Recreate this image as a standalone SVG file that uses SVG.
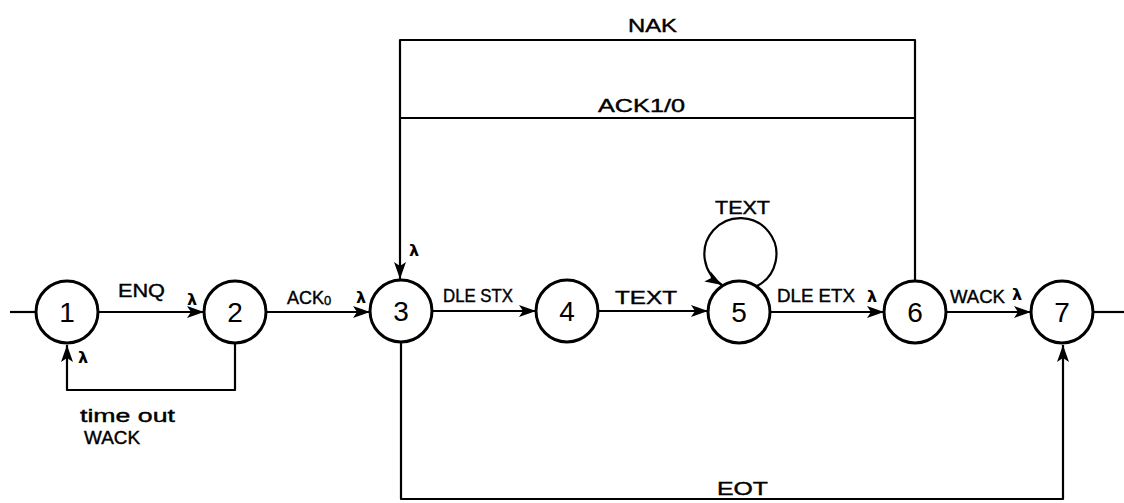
<svg xmlns="http://www.w3.org/2000/svg" width="1124" height="503" viewBox="0 0 1124 503">
<style>
.node circle{fill:#fff;stroke:#000;stroke-width:3}
.node text{font-family:"Liberation Sans",Arial,sans-serif;font-size:28px;text-anchor:middle;fill:#000}
.edge{fill:none;stroke:#000;stroke-width:2.2;stroke-linejoin:round}
.lbl{font-family:"Liberation Sans",Arial,sans-serif;font-size:18px;fill:#000;stroke:#000;stroke-width:0.4}
.lam{font-family:"DejaVu Sans",sans-serif;font-size:16px;font-weight:bold;fill:#000}
</style>
<defs>
<marker id="arr" markerUnits="userSpaceOnUse" markerWidth="18" markerHeight="12" refX="17" refY="6" orient="auto">
<path d="M0,0 L17,6 L0,12 L4,6 z" fill="#000"/>
</marker>
</defs>
<rect width="1124" height="503" fill="#fff"/>
<g id="connectors">
<path class="edge" d="M10,312 H36"/>
<path class="edge" d="M98,312 H204" marker-end="url(#arr)"/>
<path class="edge" d="M266,312 H370" marker-end="url(#arr)"/>
<path class="edge" d="M432,311 H536" marker-end="url(#arr)"/>
<path class="edge" d="M598,311 H708" marker-end="url(#arr)"/>
<path class="edge" d="M770,312 H884" marker-end="url(#arr)"/>
<path class="edge" d="M946,312 H1031" marker-end="url(#arr)"/>
<path class="edge" d="M1093,312 H1124"/>
<path class="edge" d="M235,343 V390 H67 V345" marker-end="url(#arr)"/>
<path class="edge" d="M757,286 A36,36 0 1,0 722,285" marker-end="url(#arr)"/>
<path class="edge" d="M915,281 V40 H400 V279" marker-end="url(#arr)"/>
<path class="edge" d="M915,118 H400"/>
<path class="edge" d="M401,342 V499 H1063 V345" marker-end="url(#arr)"/>
<g id="labels">
<text class="lbl" x="118" y="297" textLength="47" lengthAdjust="spacingAndGlyphs" font-size="17">ENQ</text>
<text class="lam" x="187" y="305">λ</text>
<text class="lbl" x="287" y="304" font-size="19">ACK<tspan font-size="13" dy="1">0</tspan></text>
<text class="lam" x="356" y="303">λ</text>
<text class="lbl" x="443" y="302" textLength="70" lengthAdjust="spacingAndGlyphs" font-size="18">DLE STX</text>
<text class="lbl" x="615" y="304" textLength="62" lengthAdjust="spacingAndGlyphs" font-size="20">TEXT</text>
<text class="lbl" x="715" y="214" textLength="55" lengthAdjust="spacingAndGlyphs" font-size="20">TEXT</text>
<text class="lbl" x="777" y="302" textLength="78" lengthAdjust="spacingAndGlyphs" font-size="18">DLE ETX</text>
<text class="lam" x="867" y="302">λ</text>
<text class="lbl" x="950" y="303" textLength="55" lengthAdjust="spacingAndGlyphs" font-size="17">WACK</text>
<text class="lam" x="1012" y="300">λ</text>
<text class="lam" x="409" y="256">λ</text>
<text class="lam" x="78" y="363">λ</text>
<text class="lbl" x="80" y="422" textLength="95" lengthAdjust="spacingAndGlyphs" font-size="22">time out</text>
<text class="lbl" x="84" y="444" textLength="56" lengthAdjust="spacingAndGlyphs" font-size="17">WACK</text>
<text class="lbl" x="628" y="32" textLength="49" lengthAdjust="spacingAndGlyphs" font-size="21">NAK</text>
<text class="lbl" x="598" y="112" textLength="87" lengthAdjust="spacingAndGlyphs" font-size="20">ACK1/0</text>
<text class="lbl" x="717" y="495" textLength="51" lengthAdjust="spacingAndGlyphs" font-size="23">EOT</text>
</g>
</g>
<g id="node1" class="node"><circle cx="67" cy="312" r="31"/><text x="67" y="322">1</text></g>
<g id="node2" class="node"><circle cx="235" cy="312" r="31"/><text x="235" y="322">2</text></g>
<g id="node3" class="node"><circle cx="401" cy="311" r="31"/><text x="401" y="321">3</text></g>
<g id="node4" class="node"><circle cx="567" cy="311" r="31"/><text x="567" y="321">4</text></g>
<g id="node5" class="node"><circle cx="739" cy="312" r="31"/><text x="739" y="322">5</text></g>
<g id="node6" class="node"><circle cx="915" cy="312" r="31"/><text x="915" y="322">6</text></g>
<g id="node7" class="node"><circle cx="1062" cy="312" r="31"/><text x="1062" y="322">7</text></g>
</svg>
